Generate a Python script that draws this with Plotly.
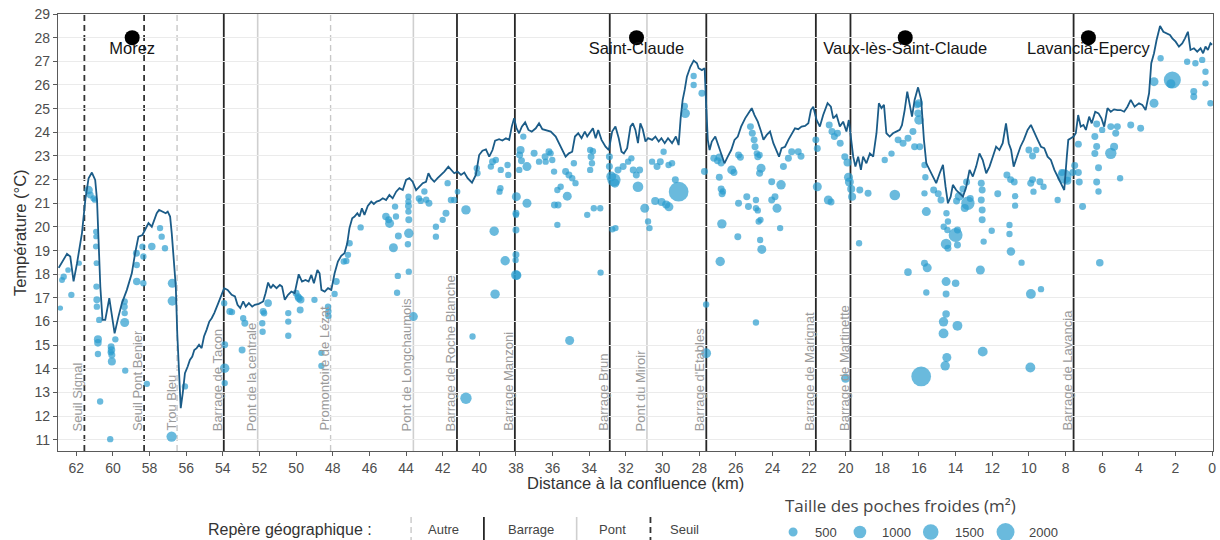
import plotly.graph_objects as go

# --- Longitudinal temperature profile (distance to confluence in km, temperature in °C)
profile_km = [
    62.96, 62.51, 62.33, 62.15, 61.96, 61.69, 61.51, 61.33, 61.15, 60.97, 60.87, 60.79, 60.69, 60.57,
    60.42, 60.20, 60.09, 59.91, 59.70, 59.51, 59.24, 58.97, 58.79, 58.61, 58.39, 58.24, 58.06, 57.88,
    57.74, 57.61, 57.48, 57.30, 57.12, 57.01, 56.88, 56.79, 56.67, 56.57, 56.49, 56.39, 56.30, 56.19,
    56.07, 55.92, 55.80, 55.67, 55.56, 55.43, 55.30, 55.16, 55.03, 54.89, 54.74, 54.61, 54.47, 54.25,
    54.07, 53.93, 53.74, 53.52, 53.34, 53.20, 53.05, 52.89, 52.75, 52.58, 52.40, 52.26, 52.04, 51.80,
    51.67, 51.53, 51.39, 51.26, 51.07, 50.89, 50.77, 50.62, 50.44, 50.26, 50.08, 49.86, 49.68, 49.49,
    49.32, 49.17, 49.03, 48.84, 48.72, 48.62, 48.44, 48.26, 48.08, 47.90, 47.72, 47.54, 47.36, 47.21,
    47.09, 46.94, 46.81, 46.66, 46.54, 46.41, 46.27, 46.09, 45.90, 45.76, 45.61, 45.45, 45.27, 45.09,
    44.91, 44.73, 44.54, 44.36, 44.18, 44.00, 43.82, 43.64, 43.45, 43.27, 43.09, 42.91, 42.78, 42.64,
    42.46, 42.28, 42.09, 41.91, 41.69, 41.51, 41.37, 41.19, 41.00, 40.82, 40.64, 40.40, 40.19, 40.01,
    39.83, 39.64, 39.46, 39.28, 39.14, 38.92, 38.74, 38.55, 38.37, 38.23, 38.10, 37.97, 37.83, 37.68,
    37.50, 37.32, 37.14, 36.92, 36.74, 36.56, 36.38, 36.10, 35.83, 35.65, 35.44, 35.29, 35.11, 34.93,
    34.78, 34.60, 34.42, 34.24, 34.11, 33.93, 33.80, 33.65, 33.51, 33.33, 33.11, 32.93, 32.75, 32.57,
    32.39, 32.24, 32.11, 31.93, 31.75, 31.62, 31.48, 31.34, 31.21, 31.08, 30.93, 30.79, 30.57, 30.39,
    30.21, 30.06, 29.88, 29.70, 29.48, 29.27, 29.12, 29.01, 28.90, 28.79, 28.67, 28.48, 28.30, 28.12,
    28.03, 27.85, 27.70, 27.63, 27.53, 27.43, 27.31, 27.12, 26.94, 26.80, 26.62, 26.44, 26.25, 26.07,
    25.89, 25.71, 25.49, 25.31, 25.13, 24.98, 24.80, 24.62, 24.49, 24.31, 24.13, 23.95, 23.77, 23.64,
    23.50, 23.31, 23.13, 22.95, 22.77, 22.59, 22.41, 22.22, 22.04, 21.90, 21.77, 21.59, 21.41, 21.23,
    20.99, 20.81, 20.68, 20.50, 20.32, 20.14, 19.96, 19.83, 19.72, 19.59, 19.47, 19.32, 19.17, 19.05,
    18.87, 18.68, 18.50, 18.32, 18.19, 18.05, 17.91, 17.78, 17.60, 17.42, 17.24, 17.05, 16.93, 16.78,
    16.64, 16.51, 16.38, 16.24, 16.05, 15.88, 15.73, 15.60, 15.42, 15.24, 15.06, 14.87, 14.69, 14.55,
    14.42, 14.27, 14.15, 13.97, 13.78, 13.60, 13.42, 13.24, 13.06, 12.88, 12.70, 12.52, 12.33, 12.15,
    11.97, 11.79, 11.61, 11.43, 11.25, 11.10, 10.97, 10.83, 10.65, 10.46, 10.28, 10.07, 9.89, 9.70,
    9.52, 9.34, 9.16, 8.98, 8.80, 8.61, 8.43, 8.25, 8.07, 7.93, 7.85, 7.71, 7.56, 7.44, 7.31, 7.17,
    7.02, 6.89, 6.71, 6.57, 6.38, 6.20, 6.04, 5.89, 5.71, 5.53, 5.35, 5.17, 4.99, 4.80, 4.62, 4.44,
    4.23, 3.99, 3.81, 3.63, 3.44, 3.32, 3.17, 3.03, 2.84, 2.66, 2.48, 2.30, 2.17, 1.99, 1.81, 1.63,
    1.48, 1.32, 1.18, 0.99, 0.81, 0.63, 0.49, 0.36, 0.23, 0.09, 0.00,
]
profile_temp = [
    18.27, 18.86, 18.75, 17.70, 18.47, 19.75, 21.14, 22.06, 22.30, 21.99, 21.14, 19.45, 17.48, 16.07,
    16.07, 16.99, 16.49, 15.50, 16.21, 16.78, 17.34, 18.04, 18.89, 19.59, 19.66, 19.87, 20.16, 20.01,
    20.30, 20.58, 20.72, 20.65, 20.58, 20.65, 20.44, 19.73, 18.60, 17.48, 15.50, 13.40, 12.34, 12.98,
    13.82, 14.10, 14.38, 14.52, 14.80, 14.88, 15.02, 14.88, 15.37, 15.65, 16.00, 16.14, 16.36, 16.78,
    17.13, 17.41, 17.34, 17.13, 17.06, 16.71, 16.57, 16.85, 16.63, 16.78, 16.63, 16.71, 16.75, 16.85,
    17.20, 17.65, 17.41, 17.55, 17.41, 17.55, 17.48, 16.92, 17.13, 17.27, 17.20, 18.00, 17.69, 17.76,
    17.69, 17.97, 17.62, 18.18, 18.04, 17.34, 17.27, 17.41, 17.34, 18.04, 18.54, 18.78, 18.89, 19.31,
    19.95, 20.37, 20.44, 20.58, 20.44, 20.79, 20.51, 20.89, 21.07, 20.97, 21.07, 21.11, 21.21, 21.14,
    21.35, 21.21, 21.49, 21.64, 21.56, 21.99, 22.06, 21.91, 21.56, 21.73, 21.85, 21.91, 22.27, 22.06,
    21.91, 22.06, 22.20, 22.34, 22.55, 22.38, 22.27, 22.34, 22.20, 22.30, 22.06, 21.87, 22.20, 23.04,
    23.22, 23.28, 22.97, 23.25, 23.65, 23.71, 23.65, 23.75, 23.68, 24.24, 24.59, 24.17, 23.96, 24.24,
    24.42, 24.10, 24.03, 24.17, 24.38, 24.13, 24.10, 24.03, 23.82, 23.54, 23.18, 22.97, 23.11, 23.18,
    23.82, 23.96, 23.75, 24.03, 23.82, 24.03, 24.17, 23.75, 24.10, 23.68, 23.39, 23.25, 24.03, 24.24,
    23.75, 23.18, 23.11, 23.33, 24.24, 24.38, 24.10, 23.54, 24.38, 24.13, 23.61, 23.75, 23.68, 23.82,
    23.61, 23.75, 23.54, 23.75, 23.54, 23.82, 23.46, 24.60, 25.37, 25.79, 26.35, 26.77, 27.03, 26.92,
    26.71, 26.63, 26.71, 25.37, 23.68, 23.25, 23.61, 23.82, 23.39, 23.04, 22.69, 22.97, 23.25, 23.68,
    23.82, 24.24, 24.59, 24.80, 25.02, 24.73, 24.45, 24.03, 23.68, 23.89, 24.03, 23.54, 23.25, 22.97,
    23.33, 23.39, 23.68, 23.96, 24.17, 24.13, 24.24, 24.27, 24.38, 24.94, 25.08, 24.52, 24.24, 24.73,
    25.23, 25.08, 24.59, 24.73, 24.24, 24.45, 24.03, 24.52, 23.82, 22.97, 22.55, 22.97, 22.41, 22.97,
    22.69, 23.11, 22.97, 23.96, 25.23, 25.02, 25.16, 23.96, 23.82, 23.96, 24.03, 24.10, 24.30, 24.94,
    25.72, 25.23, 24.66, 25.37, 25.90, 25.37, 23.68, 22.69, 22.41, 22.13, 21.85, 22.27, 22.62, 21.70,
    21.00, 21.28, 21.78, 21.56, 21.42, 21.28, 21.70, 22.41, 22.13, 22.55, 23.11, 22.83, 22.27, 22.55,
    22.97, 23.39, 23.25, 23.54, 24.38, 23.54, 23.25, 22.55, 22.97, 23.39, 23.68, 24.10, 24.31, 23.96,
    23.68, 23.39, 23.33, 22.97, 22.83, 22.41, 22.13, 21.85, 21.56, 22.97, 23.68, 23.75, 23.82, 23.96, 24.73, 24.24,
    24.31, 24.10, 24.66, 24.38, 24.87, 24.80, 24.59, 24.24, 25.02, 24.87, 24.97, 24.94, 24.94, 24.87, 25.08, 25.37,
    25.08, 25.23, 25.16, 24.94, 25.65, 26.92, 27.34, 27.90, 28.49, 28.25, 28.18, 28.11, 27.97, 27.83, 27.62, 27.76,
    27.97, 28.25, 27.48, 27.55, 27.41, 27.55, 27.34, 27.62, 27.48, 27.76, 27.70,
]

# --- Cold pockets: position (km), temperature (°C), surface (m²)
pocket_km = [
    # upstream of Barrage de Tacon
    62.87, 62.78, 62.69, 62.45, 62.27, 61.84, 61.33, 61.24, 61.06, 61.00, 60.93, 60.93, 60.93, 60.90,
    60.90, 60.88, 60.88, 60.75, 60.82, 60.82, 60.82, 60.70, 60.10, 60.08, 60.06, 60.06, 60.12, 60.15,
    59.87, 59.33, 59.36, 59.38, 59.36, 59.36, 58.70, 58.72, 58.70, 58.39, 58.34, 58.34, 58.15, 57.88,
    57.43, 57.34, 57.16, 56.76, 56.76, 56.07, 56.80,
    # Tacon to Lézat
    53.93, 53.90, 53.90, 53.90, 53.62, 53.50, 52.89, 52.80, 52.95, 51.80, 51.75, 51.85, 51.83, 51.53,
    50.43, 50.43, 50.43, 50.00, 49.85, 49.75, 49.78, 49.90, 49.00, 48.62, 48.62, 48.26, 48.24, 48.24,
    47.90, 47.81, 47.40, 47.26, 47.17, 47.08, 46.48,
    # Lézat to Roche Blanche
    45.10, 44.95, 44.90, 44.60, 44.55, 44.42, 44.69, 44.45, 44.49, 43.87, 43.87, 43.87, 43.87, 43.85,
    43.85, 43.90, 43.85, 43.60, 43.20, 43.00, 42.90, 42.75, 43.30, 42.37, 42.37, 42.00, 41.82, 41.73,
    41.55, 41.37, 41.19, 40.73, 40.37, 40.73,
    # Roche Blanche to Etables
    40.14, 40.10, 39.37, 39.28, 39.10, 38.83, 38.46, 38.42, 38.85, 38.90, 39.19, 38.59, 39.14, 37.98,
    38.00, 38.00, 38.00, 38.00, 38.02, 38.00, 37.95, 37.80, 37.75, 37.70, 37.82, 37.60, 37.40, 37.40,
    37.01, 36.74, 36.41, 36.38, 36.20, 36.11, 36.02, 35.92, 35.74, 35.56, 35.29, 35.11, 34.93, 34.84,
    34.75, 35.90, 35.70, 35.74, 35.20, 35.07, 34.11, 33.75, 33.40, 33.38, 33.95, 33.90, 33.85, 33.95,
    33.80, 32.74, 32.90, 32.90, 32.80, 32.65, 32.60, 32.57, 32.43, 32.15, 31.88, 31.70, 31.60, 31.43,
    31.34, 31.25, 30.97, 30.79, 30.71, 30.57, 30.30, 30.12, 29.94, 29.67, 29.48, 30.40, 30.05, 29.80,
    29.65, 29.12, 29.30, 28.76, 28.80, 27.85, 28.30, 28.30, 27.71, 27.62, 27.62,
    # Etables to Martinette
    27.20, 27.00, 26.90, 26.80, 26.90, 26.80, 26.75, 26.70, 26.76, 26.85, 26.22, 26.10, 25.85, 25.75,
    25.40, 25.31, 25.20, 25.10, 25.00, 24.95, 24.85, 24.80, 24.70, 24.62, 24.70, 24.90, 24.80, 24.65,
    25.89, 25.85, 24.90, 24.75, 24.67, 24.58, 24.90, 24.04, 23.86, 23.53, 23.40, 23.13, 22.95, 22.59,
    22.44, 24.04, 23.75, 23.58, 21.63, 21.55, 21.55, 20.90, 20.75, 20.62, 20.45, 20.30, 20.05, 20.95,
    20.80, 19.90, 19.85, 19.80, 19.70, 19.65, 19.23, 18.78, 20.01, 19.27,
    # downstream of Martinette, upper cloud
    17.87, 17.50, 17.32, 17.14, 16.87, 16.60, 16.33, 16.24, 15.96, 16.10, 16.00, 16.05, 16.00, 15.70,
    15.65, 15.70, 15.20, 14.95, 14.80, 15.60, 14.50, 14.42, 14.45, 13.95, 13.80, 13.60, 13.40, 13.33,
    13.50, 13.20, 12.60, 12.55, 12.60, 12.55, 12.55, 11.70, 11.20, 11.00, 10.80, 10.75, 10.75, 10.00,
    9.80, 9.60, 9.90, 9.80, 9.75, 9.40, 9.20, 8.43, 8.20, 8.07, 7.90, 7.60, 7.50, 7.30, 7.25, 7.07,
    7.30, 6.40, 6.30, 6.40, 6.20, 6.30, 6.20, 6.30, 6.00, 5.53, 5.35, 5.26, 5.17, 5.53, 4.44, 3.90,
    5.02, 3.17, 3.17, 2.81, 2.17, 2.25, 1.36, 0.91, 0.54, 0.36, 0.36, 0.09, 1.00, 1.00,
    # downstream of Martinette, colder pockets
    15.88, 15.70, 15.55, 15.60, 14.65, 14.00, 14.52, 14.42, 13.90, 13.90, 14.52, 14.00, 14.52, 14.52,
    14.66, 14.66, 13.90, 14.48, 14.57, 12.03, 12.47, 12.65, 12.52, 11.06, 11.06, 10.98, 10.40, 9.89,
    9.34, 9.92, 6.13, 16.60,
]
pocket_temp = [
    16.57, 17.76, 17.90, 18.18, 17.13, 18.47, 21.56, 21.35, 21.21, 21.14, 19.80, 19.59, 19.17, 18.47,
    17.48, 16.92, 16.63, 16.07, 15.25, 15.10, 14.63, 12.62, 14.94, 14.80, 14.59, 14.31, 14.70, 11.03,
    15.25, 13.93, 16.85, 16.63, 16.36, 15.96, 17.69, 18.89, 18.39, 19.17, 18.75, 17.62, 13.37, 19.17,
    19.95, 19.59, 19.10, 17.62, 16.87, 13.26, 11.14,
    16.78, 15.02, 14.03, 13.40, 16.43, 16.40, 16.14, 15.93, 14.80, 16.43, 16.35, 15.93, 15.57, 16.78,
    16.36, 16.00, 15.40, 17.20, 16.99, 16.92, 16.49, 17.05, 16.92, 14.68, 14.13, 16.63, 16.43, 16.24,
    17.17, 17.69, 18.54, 18.56, 18.82, 19.31, 19.98,
    20.44, 20.30, 20.15, 20.86, 20.44, 19.62, 19.12, 17.93, 17.22, 21.28, 21.07, 20.89, 20.65, 20.30,
    19.73, 19.27, 18.11, 16.21, 21.10, 21.50, 21.15, 21.00, 21.20, 20.01, 19.59, 20.30, 20.58, 21.85,
    21.14, 21.14, 21.49, 20.72, 15.37, 12.76,
    22.48, 22.27, 22.55, 22.76, 22.83, 22.41, 22.62, 22.20, 21.64, 21.49, 19.82, 18.57, 17.16, 21.28,
    20.58, 20.51, 19.87, 18.82, 18.60, 17.97, 17.95, 23.04, 23.25, 22.80, 22.41, 23.82, 22.55, 21.00,
    23.11, 22.76, 22.97, 22.76, 23.18, 23.11, 22.83, 22.34, 21.56, 21.70, 22.34, 22.20, 22.06, 22.69,
    21.85, 20.93, 20.93, 20.09, 21.30, 15.20, 20.51, 20.79, 20.79, 18.07, 23.25, 22.97, 22.69, 22.41,
    23.20, 19.90, 22.97, 22.55, 22.13, 21.99, 21.85, 19.95, 22.41, 22.55, 22.76, 22.90, 22.41, 22.20,
    21.70, 22.41, 20.79, 20.23, 19.95, 22.76, 22.55, 22.76, 23.18, 22.62, 22.69, 21.10, 21.05, 20.95,
    20.85, 21.49, 21.99, 24.80, 25.10, 25.65, 26.38, 26.00, 22.34, 16.72, 14.66,
    22.90, 22.80, 22.95, 22.70, 22.10, 21.60, 21.40, 21.50, 20.13, 18.54, 22.41, 22.30, 23.04, 22.95,
    21.28, 20.86, 24.24, 23.96, 23.68, 23.39, 23.11, 22.97, 23.04, 22.48, 22.27, 21.14, 20.70, 20.30,
    19.59, 21.00, 20.79, 20.23, 19.45, 19.05, 15.96, 21.91, 21.28, 21.78, 22.55, 22.90, 23.18, 23.18,
    22.99, 21.14, 20.79, 19.95, 23.68, 23.32, 21.70, 24.31, 24.03, 23.82, 23.96, 23.54, 22.97, 21.14,
    21.05, 22.72, 22.10, 21.90, 21.60, 21.28, 21.56, 21.42, 13.60, 19.31,
    22.83, 23.10, 21.35, 23.68, 23.54, 23.75, 24.03, 23.39, 23.39, 25.16, 25.23, 24.80, 24.52, 22.62,
    22.10, 21.42, 21.56, 21.40, 21.14, 20.65, 20.58, 20.23, 19.87, 21.10, 21.30, 21.60, 21.90, 21.00,
    20.80, 21.20, 21.85, 21.56, 21.14, 20.72, 20.30, 21.40, 22.20, 22.00, 21.90, 21.30, 20.90, 23.25,
    23.00, 23.25, 21.85, 22.00, 21.49, 21.91, 21.70, 21.14, 22.30, 22.13, 21.95, 22.30, 22.60, 22.30,
    21.90, 20.86,
    23.50, 23.82, 23.40, 23.10, 22.50, 21.90, 21.50, 24.35, 24.10, 23.11, 23.39, 23.96, 24.24, 24.24,
    24.31, 24.17,
    22.06, 26.14, 25.23, 27.13, 26.21, 26.05, 26.98, 26.92, 27.06, 26.56, 26.07, 25.23, 25.72, 25.50,
    13.68, 18.47, 18.27, 17.23, 20.01, 19.66, 19.28, 19.10, 19.24, 19.87, 17.69, 17.62, 17.17, 16.32,
    15.99, 15.50, 15.82, 14.48, 14.13, 19.84, 19.38, 18.18, 14.73, 20.08, 19.70, 18.96, 18.49, 17.17,
    17.37, 14.06, 18.49, 18.09,
]
pocket_area = [
    180, 220, 250, 200, 250, 180, 450, 300, 250, 200, 200, 180, 220, 200,
    250, 300, 250, 250, 400, 350, 250, 250, 300, 350, 300, 400, 250, 250,
    250, 250, 250, 300, 250, 500, 350, 300, 250, 250, 250, 250, 250, 350,
    250, 250, 250, 500, 550, 250, 650,
    250, 300, 550, 250, 300, 250, 250, 300, 300, 300, 250, 250, 250, 350,
    250, 250, 250, 300, 350, 350, 300, 300, 250, 250, 250, 250, 250, 250,
    250, 300, 250, 250, 250, 250, 250,
    350, 300, 500, 250, 250, 300, 500, 250, 250, 250, 250, 300, 250, 300,
    550, 250, 250, 500, 250, 250, 250, 300, 250, 250, 250, 250, 300, 250,
    250, 250, 200, 550, 250, 800,
    250, 250, 250, 300, 250, 250, 250, 250, 250, 250, 550, 550, 550, 500,
    300, 250, 300, 300, 250, 600, 500, 300, 400, 300, 250, 250, 500, 500,
    300, 250, 300, 250, 300, 250, 250, 250, 250, 250, 300, 300, 250, 250,
    250, 300, 300, 250, 500, 500, 250, 250, 250, 250, 250, 300, 250, 250,
    250, 250, 300, 300, 600, 1100, 500, 250, 300, 300, 250, 250, 300, 300,
    700, 300, 500, 250, 250, 250, 300, 300, 250, 250, 250, 400, 400, 400,
    500, 2400, 300, 550, 300, 300, 250, 250, 300, 250, 600,
    300, 300, 350, 300, 300, 300, 300, 250, 550, 550, 500, 300, 300, 300,
    300, 300, 300, 300, 300, 300, 250, 300, 250, 500, 300, 250, 250, 250,
    300, 300, 250, 250, 250, 500, 250, 300, 300, 550, 300, 300, 300, 300,
    300, 300, 500, 250, 300, 300, 500, 300, 300, 300, 300, 300, 300, 500,
    300, 400, 500, 500, 400, 400, 300, 300, 500, 250,
    250, 250, 700, 300, 300, 300, 300, 300, 300, 300, 400, 350, 550, 250,
    250, 250, 300, 300, 300, 500, 250, 250, 250, 300, 500, 300, 300, 1100,
    400, 300, 300, 300, 300, 300, 300, 300, 300, 300, 300, 250, 250, 300,
    300, 250, 300, 300, 250, 300, 250, 250, 300, 1300, 400, 300, 300, 300, 300, 300,
    300, 300, 300, 300, 300, 300, 250, 300, 250, 800, 400, 300, 300, 300, 300, 300,
    250, 500, 500, 250, 1800, 500, 250, 250, 250, 250, 250, 250, 300, 300,
    2400, 300, 500, 250, 250, 1200, 700, 300, 300, 300, 500, 350, 300, 350,
    550, 600, 600, 500, 550, 250, 250, 500, 600, 250, 250, 450, 250, 600,
    250, 600, 350, 350,
]

# --- Geographic landmarks along the river
landmark_names = [
    "Seuil Signal", "Seuil Pont Benier", "Trou Bleu", "Barrage de Tacon", "Pont de la centrale",
    "Promontoire de Lézat", "Pont de Longchaumois", "Barrage de Roche Blanche", "Barrage Manzoni",
    "Barrage Brun", "Pont du Miroir", "Barrage d'Etables", "Barrage de Marignat",
    "Barrage de Martinette", "Barrage de Lavancia",
]
landmark_km = [61.56, 58.30, 56.50, 53.95, 52.10, 48.12, 43.60, 41.22, 38.06, 32.88, 30.85, 27.61,
               21.63, 19.74, 7.56]
landmark_type = ["Seuil", "Seuil", "Autre", "Barrage", "Pont", "Autre", "Pont", "Barrage", "Barrage",
                 "Barrage", "Pont", "Barrage", "Barrage", "Barrage", "Barrage"]

# --- Towns
town_names = ["Morez", "Saint-Claude", "Vaux-lès-Saint-Claude", "Lavancia-Epercy"]
town_km = [58.95, 31.42, 16.75, 6.75]
town_temp = [28.0, 28.0, 28.0, 28.0]

# --- Axis ticks and size legend
x_ticks = list(range(0, 63, 2))
y_ticks = list(range(11, 30))
size_legend_values = [500, 1000, 1500, 2000]

LANDMARK_STYLE = {
    "Autre": dict(color="#c8c8c8", width=1.4, dash="6px,4px"),
    "Barrage": dict(color="#262626", width=1.8, dash="solid"),
    "Pont": dict(color="#cfcfcf", width=1.6, dash="solid"),
    "Seuil": dict(color="#333333", width=1.8, dash="6px,4px"),
}

POINT_COLOR = "rgb(43,156,207)"
POINT_OPACITY = 0.7
SIZEREF = 2.0 * 2000 / (18 ** 2)

# plot area in pixels
W, H = 1220, 540
L, R, T, B = 58, 4, 14, 89
PW, PH = W - L - R, H - T - B


def px_to_paper(px, py):
    return (px - L) / PW, (H - B - py) / PH


fig = go.Figure()

fig.add_trace(go.Scatter(
    x=pocket_km, y=pocket_temp, mode="markers",
    marker=dict(size=pocket_area, sizemode="area", sizeref=SIZEREF, sizemin=2,
                color=POINT_COLOR, opacity=POINT_OPACITY, line=dict(width=0)),
    hoverinfo="skip", showlegend=False,
))

fig.add_trace(go.Scatter(
    x=profile_km, y=profile_temp, mode="lines",
    line=dict(color="#1b5c88", width=1.8),
    hoverinfo="skip", showlegend=False,
))

fig.add_trace(go.Scatter(
    x=town_km, y=town_temp, mode="markers",
    marker=dict(size=15, color="black"),
    hoverinfo="skip", showlegend=False,
))
fig.add_trace(go.Scatter(
    x=town_km, y=[t - 0.52 for t in town_temp], mode="text", text=town_names,
    textfont=dict(size=16.5, color="#151515"), textposition="middle center",
    hoverinfo="skip", showlegend=False, cliponaxis=False,
))

shapes = []
annotations = []

# landmark lines and their rotated labels
label_y = px_to_paper(0, 433)[1]
for name, km, kind in zip(landmark_names, landmark_km, landmark_type):
    st = LANDMARK_STYLE[kind]
    shapes.append(dict(type="line", xref="x", yref="paper", x0=km, x1=km, y0=0, y1=1,
                       layer="between", line=st))
    annotations.append(dict(x=km, y=label_y, xref="x", yref="paper", text=name, showarrow=False,
                            textangle=-90, xanchor="right", yanchor="bottom", xshift=3,
                            font=dict(size=13, color="#9b9b9b")))

# axis titles
annotations.append(dict(x=0.5, y=px_to_paper(0, 483)[1], xref="paper", yref="paper",
                        text="Distance à la confluence (km)", showarrow=False,
                        font=dict(size=16.5, color="#333333"), xanchor="center", yanchor="middle"))
annotations.append(dict(x=px_to_paper(20, 0)[0], y=px_to_paper(0, 233)[1], xref="paper", yref="paper",
                        text="Température (°C)", showarrow=False, textangle=-90,
                        font=dict(size=16.5, color="#333333"), xanchor="center", yanchor="middle"))

# landmark legend
ly = px_to_paper(0, 529)[1]
annotations.append(dict(x=px_to_paper(291, 0)[0], y=ly, xref="paper", yref="paper",
                        text="Repère géographique :", showarrow=False,
                        font=dict(size=16, color="#333333"), xanchor="center", yanchor="middle"))
legend_items = [("Autre", 412, 445), ("Barrage", 485, 532), ("Pont", 578, 614), ("Seuil", 652, 686)]
for kind, sym_x, txt_x in legend_items:
    sx = px_to_paper(sym_x, 0)[0]
    shapes.append(dict(type="line", xref="paper", yref="paper", x0=sx, x1=sx,
                       y0=px_to_paper(0, 517)[1], y1=px_to_paper(0, 542)[1],
                       line=LANDMARK_STYLE[kind]))
    annotations.append(dict(x=px_to_paper(txt_x, 0)[0], y=ly, xref="paper", yref="paper",
                            text=kind, showarrow=False, font=dict(size=13, color="#444444"),
                            xanchor="center", yanchor="middle"))

# size legend
annotations.append(dict(x=px_to_paper(785, 0)[0], y=px_to_paper(0, 505)[1], xref="paper", yref="paper",
                        text="Taille des poches froides (m²)", showarrow=False,
                        font=dict(size=17, color="#444444", family="Open Sans"),
                        xanchor="left", yanchor="middle"))
circle_x = [795, 862, 933, 1008]
label_x = [815, 882, 955, 1030]
for val, cx, tx in zip(size_legend_values, circle_x, label_x):
    r = (val / 2.0 / SIZEREF) ** 0.5
    px, py = px_to_paper(cx, 532)
    shapes.append(dict(type="circle", xref="paper", yref="paper", xsizemode="pixel",
                       ysizemode="pixel", xanchor=px, yanchor=py, x0=-r, x1=r, y0=-r, y1=r,
                       fillcolor=POINT_COLOR, opacity=POINT_OPACITY, line=dict(width=0)))
    annotations.append(dict(x=px_to_paper(tx, 0)[0], y=py, xref="paper", yref="paper",
                            text=str(val), showarrow=False, font=dict(size=13, color="#444444"),
                            xanchor="left", yanchor="middle"))

fig.update_layout(
    width=W, height=H,
    margin=dict(l=L, r=R, t=T, b=B, pad=0),
    paper_bgcolor="white", plot_bgcolor="white",
    font=dict(family="Liberation Sans, Arial, sans-serif", color="#4d4d4d"),
    shapes=shapes, annotations=annotations, showlegend=False,
    xaxis=dict(range=[63.0, -0.05], tickvals=x_ticks, ticktext=[str(v) for v in x_ticks],
               showgrid=False, zeroline=False, showline=True, mirror=True,
               linecolor="#5a5a5a", linewidth=1.3, ticks="outside", ticklen=4,
               tickcolor="#5a5a5a", tickfont=dict(size=14, color="#4d4d4d")),
    yaxis=dict(range=[10.53, 29.0], tickvals=y_ticks, showgrid=True, gridcolor="#ebebeb",
               gridwidth=1, zeroline=False, showline=True, mirror=True,
               linecolor="#5a5a5a", linewidth=1.3, ticks="outside", ticklen=4,
               tickcolor="#5a5a5a", tickfont=dict(size=14, color="#4d4d4d")),
)

fig.write_html("out.html", config={"displayModeBar": False})
